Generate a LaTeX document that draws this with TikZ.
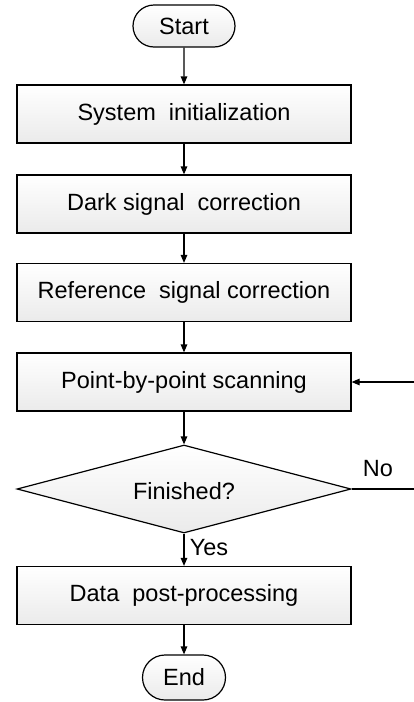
\documentclass[tikz,border=0pt]{standalone}
\usepackage{fontspec}
\setmainfont{Liberation Sans}
\usetikzlibrary{shapes.geometric,shapes.misc,arrows.meta}
\begin{document}
\begin{tikzpicture}[x=1pt,y=-1pt,
  every node/.style={font=\fontsize{23.5}{28}\selectfont},
  procbox/.style={draw, line width=1.2pt, rectangle, inner sep=0pt, minimum width=334pt, minimum height=58pt, top color=white, bottom color=gray!16},
  termbox/.style={draw, line width=1.2pt, rounded rectangle, inner sep=0pt, top color=white, bottom color=gray!16},
  decbox/.style={draw, line width=1.2pt, diamond, inner sep=0pt, minimum width=334pt, minimum height=88pt, top color=white, bottom color=gray!16},
  arr/.style={line width=1.2pt, -{Triangle[length=8pt,width=6.5pt]}},
  ln/.style={line width=1.2pt}]
\useasboundingbox (0,0) rectangle (414,702);
\node[termbox, minimum width=102pt, minimum height=42pt] (start) at (184,26) {Start};
\node[procbox] (sys) at (184,114) {System\ \ initialization};
\node[procbox] (dark) at (184,204) {Dark signal\ \ correction};
\node[procbox] (ref) at (184,292.5) {Reference\ \ signal correction};
\node[procbox] (scan) at (184,382) {Point-by-point scanning};
\node[decbox] (dec) at (184,489) {};
\node at (184,491) {Finished?};
\node[procbox] (data) at (184,595.5) {Data\ \ post-processing};
\node[termbox, minimum width=83pt, minimum height=45pt] (end) at (184,677.5) {End};
\coordinate (fbR) at (414,489);
\coordinate (fbT) at (414,382);
\draw[arr] (start) -- (sys);
\draw[arr] (sys) -- (dark);
\draw[arr] (dark) -- (ref);
\draw[arr] (ref) -- (scan);
\draw[arr] (scan) -- (dec);
\draw[arr] (dec) -- (data);
\draw[arr] (data) -- (end);
\draw[ln] (dec.east) -- (fbR);
\draw[arr] (fbT) -- (scan.east);
\node (no) at (378,469) {No};
\node (yes) at (209,548) {Yes};
\end{tikzpicture}
\end{document}
